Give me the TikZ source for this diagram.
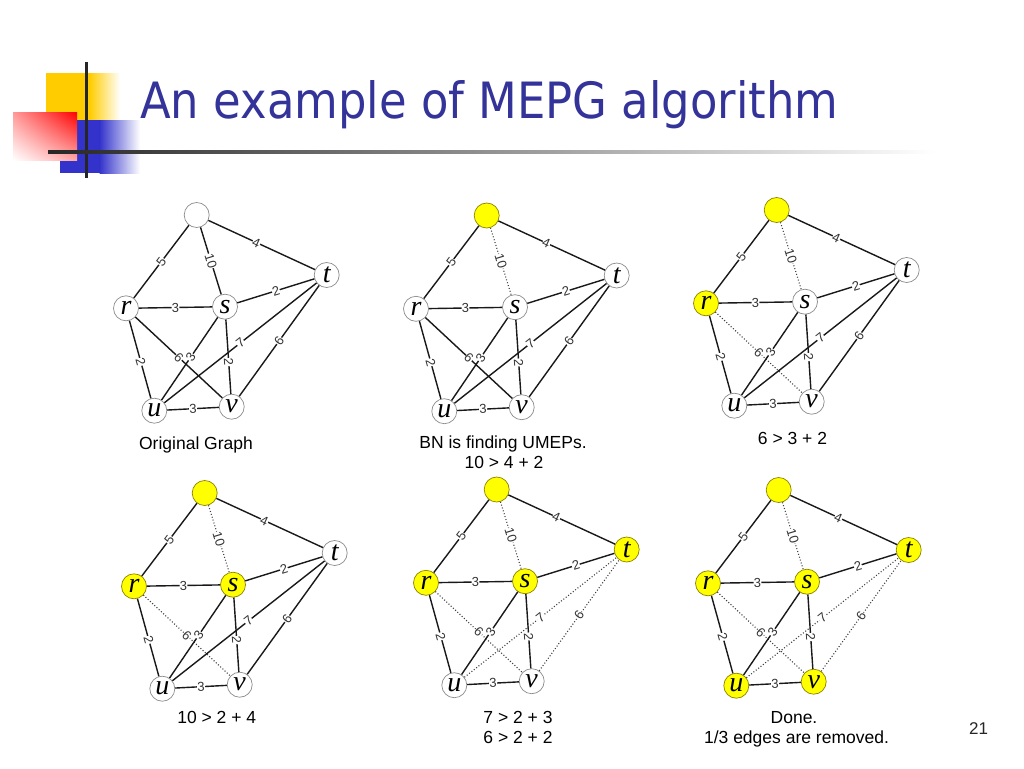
\documentclass[tikz,border=0pt]{standalone}
\usepackage{fontspec}
\setmainfont{Liberation Sans}
\newfontfamily\titlefont{DejaVu Sans}
\newfontfamily\vxfont{Liberation Serif}
\usepackage{graphicx}
\usetikzlibrary{shadings}
\definecolor{hyellow}{RGB}{255,204,0}
\definecolor{hblue}{RGB}{51,51,204}
\definecolor{titleblue}{RGB}{51,51,153}
\definecolor{nodeyel}{RGB}{255,255,0}
\definecolor{yelline}{RGB}{140,130,0}
\tikzset{
  vx/.style={circle, draw=black!45, line width=0.7pt, fill=white, minimum size=25pt, inner sep=0pt, font=\vxfont\itshape\fontsize{28}{28}\selectfont},
  yel/.style={fill=nodeyel, draw=yelline},
  ed/.style={draw=black!90, line width=1.4pt},
  dot/.style={draw=black!75, line width=1.1pt, dash pattern=on 1pt off 2pt},
  elab/.style={sloped, fill=white, inner sep=0.3pt, font=\fontsize{13}{13}\selectfont, text=black!80},
  captxt/.style={anchor=base, inner sep=0pt, font=\fontsize{17.5}{17.5}\selectfont, text=black},
  nw/.style={}, nr/.style={}, ns/.style={}, nt/.style={}, nu/.style={}, nv/.style={},
  eWR/.style={ed}, eWS/.style={ed}, eWT/.style={ed}, eRS/.style={ed}, eST/.style={ed}, eRU/.style={ed},
  eRV/.style={ed}, eSU/.style={ed}, eSV/.style={ed}, eUT/.style={ed}, eVT/.style={ed}, eUV/.style={ed}
}
\newcommand\mepggraph[3]{%
  \begin{scope}[shift={(#2,#3)}]
    \node[vx,nw] (#1w) at (196.7,215) {};
    \node[vx,nr] (#1r) at (126,308.3) {r};
    \node[vx,ns] (#1s) at (225,306.7) {s};
    \node[vx,nt] (#1t) at (326.7,275) {t};
    \node[vx,nu] (#1u) at (154.3,410.7) {u};
    \node[vx,nv] (#1v) at (231.7,406.7) {v};
    \draw[eWR] (#1w) -- node[elab]{5} (#1r);
    \draw[eWS] (#1w) -- node[elab]{10} (#1s);
    \draw[eWT] (#1w) -- node[elab,pos=0.45]{4} (#1t);
    \draw[eRS] (#1r) -- node[elab]{3} (#1s);
    \draw[eST] (#1s) -- node[elab]{2} (#1t);
    \draw[eRU] (#1r) -- node[elab,pos=0.53]{2} (#1u);
    \draw[eRV] (#1r) -- node[elab]{6} (#1v);
    \draw[eSU] (#1s) -- node[elab,pos=0.48]{3} (#1u);
    \draw[eSV] (#1s) -- node[elab,pos=0.57]{2} (#1v);
    \draw[eUT] (#1u) -- node[elab]{7} (#1t);
    \draw[eVT] (#1v) -- node[elab]{6} (#1t);
    \draw[eUV] (#1u) -- node[elab]{3} (#1v);
  \end{scope}}
\begin{document}
\begin{tikzpicture}[x=1pt,y=-1pt]
  \fill[white] (0,0) rectangle (1024,768);
  \useasboundingbox (0,0) rectangle (1024,768);
  % header decoration
  \fill[hyellow] (46,73) rectangle (90,122);
  \shade[left color=hyellow, right color=white] (89.5,73) rectangle (120,122);
  \fill[hblue] (60,120) rectangle (100,173);
  \shade[left color=hblue, right color=white] (99.5,120) rectangle (140,173);
  \shade[upper right=red, upper left=red!40, lower right=red!35, lower left=white] (13,112) rectangle (77,160);
  \draw[line width=3pt, black!85] (86,62) -- (86,178);
  \shade[left color=black!85, right color=white] (48,150.5) rectangle (935,153.5);
  \node[anchor=base west, inner sep=0pt, text=titleblue, font=\titlefont\fontsize{50}{50}\selectfont] (title) at (140,118.5) {\resizebox{698pt}{\height}{An example of MEPG algorithm}};
  % graphs
  \begin{scope}
    \mepggraph{a}{0}{0}
  \end{scope}
  \begin{scope}[nw/.style={yel}, eWS/.style={dot}]
    \mepggraph{b}{290}{0.5}
  \end{scope}
  \begin{scope}[nw/.style={yel}, nr/.style={yel}, eWS/.style={dot}, eRV/.style={dot}]
    \mepggraph{c}{580}{-5}
  \end{scope}
  \begin{scope}[nw/.style={yel}, nr/.style={yel}, ns/.style={yel}, eWS/.style={dot}, eRV/.style={dot}]
    \mepggraph{d}{8}{278}
  \end{scope}
  \begin{scope}[nw/.style={yel}, nr/.style={yel}, ns/.style={yel}, nt/.style={yel}, eWS/.style={dot}, eRV/.style={dot}, eUT/.style={dot}, eVT/.style={dot}]
    \mepggraph{e}{300}{274.5}
  \end{scope}
  \begin{scope}[nw/.style={yel}, nr/.style={yel}, ns/.style={yel}, nt/.style={yel}, nu/.style={yel}, nv/.style={yel}, eWS/.style={dot}, eRV/.style={dot}, eUT/.style={dot}, eVT/.style={dot}]
    \mepggraph{f}{582}{275}
  \end{scope}
  % captions
  \node[captxt] (c1) at (196,449) {Original Graph};
  \node[captxt] (c2a) at (503,448) {BN is finding UMEPs.};
  \node[captxt] (c2b) at (504,468) {10 > 4 + 2};
  \node[captxt] (c3) at (792.5,444.5) {6 > 3 + 2};
  \node[captxt] (c4) at (216.7,723) {10 > 2 + 4};
  \node[captxt] (c5a) at (518,723) {7 > 2 + 3};
  \node[captxt] (c5b) at (518,743) {6 > 2 + 2};
  \node[captxt] (c6a) at (794,723) {Done.};
  \node[captxt] (c6b) at (796.5,743) {1/3 edges are removed.};
  \node[anchor=base, inner sep=0pt, font=\fontsize{17}{17}\selectfont, text=black!85] (pg) at (978.5,734) {21};
\end{tikzpicture}
\end{document}
